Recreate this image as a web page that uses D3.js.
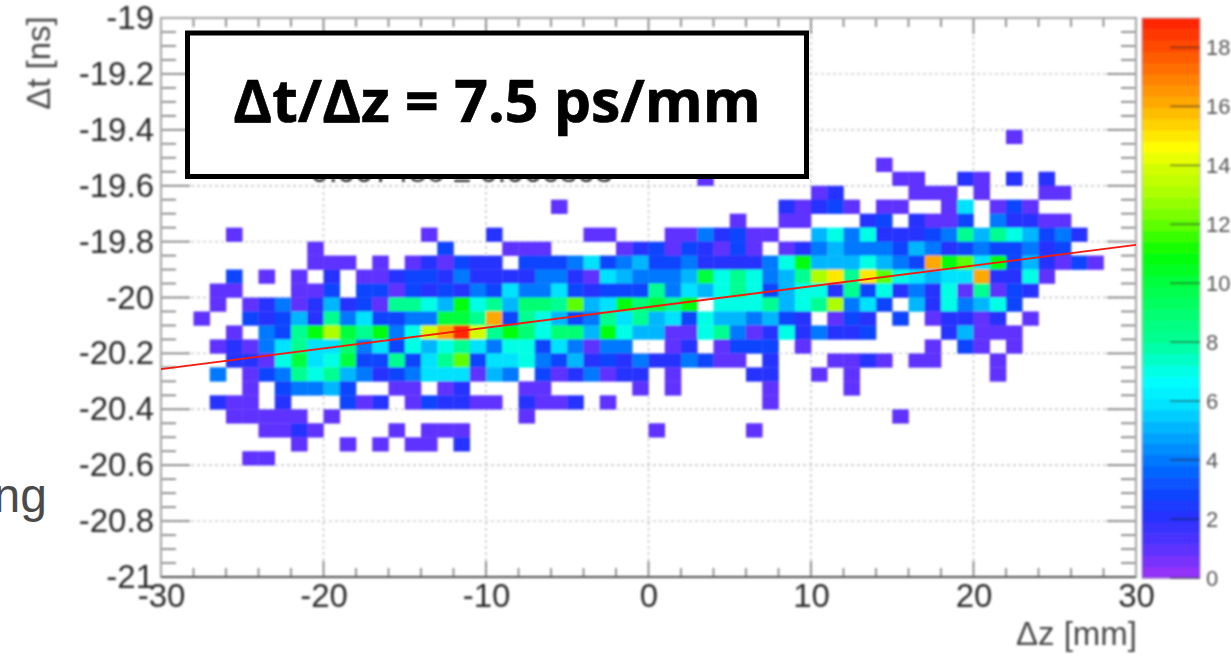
<!DOCTYPE html>
<html>
<head>
<meta charset="utf-8">
<script src="https://cdn.jsdelivr.net/npm/d3@7"></script>
<style>
  html, body { margin: 0; padding: 0; background: #fff; overflow: hidden; }
  text { font-family: "Liberation Sans", sans-serif; fill: #2c2c2c; }
  .domain { display: none; }
</style>
</head>
<body>
<svg width="1231" height="657"></svg>
<script>
var zTicks = [-30, -20, -10, 0, 10, 20, 30],
    tTicks = [-19, -19.2, -19.4, -19.6, -19.8, -20, -20.2, -20.4, -20.6, -20.8, -21],
    countTicks = [0, 2, 4, 6, 8, 10, 12, 14, 16, 18];

var fitZ = [-30, 30],
    fitT = [-20.256, -19.812];

var binZ = 1, binT = 0.05;

// upper dt edge of each row of bins
var rowT = [-19.4, -19.5, -19.55, -19.6, -19.65, -19.7, -19.75, -19.8, -19.85, -19.9,
            -19.95, -20, -20.05, -20.1, -20.15, -20.2, -20.25, -20.3, -20.35, -20.4,
            -20.45, -20.5, -20.55];

// dz of the first bin given in each row
var rowZ = [22, 14, 3, 10, -6, 5, -26, -21, -21, -26, -27, -27, -28, -26, -27, -26, -27, -25, -27, -26, -24, -22, -25];

var rowCounts = [
  [1],
  [1],
  [1,0,0,0,0,0,0,0,0,0,0,0,1,1,0,0,2,1,0,2,0,2],
  [1,2,0,0,0,0,1,1,1,0,1,0,0,0,1,1],
  [1,0,0,0,0,0,0,0,0,0,0,0,0,0,2,1,2,3,1,0,1,1,0,0,1,6,0,1,3,1],
  [1,0,0,1,1,0,0,0,2,3,0,2,1,1,3,0,4,2,2,1,1],
  [1,0,0,0,0,0,0,0,0,0,0,0,1,0,0,0,2,0,0,0,0,0,1,1,0,0,0,1,1,4,2,3,1,1,0,0,5,7,4,7,2,2,2,3,4,8,5,8,7,5,3,4,2],
  [1,0,0,0,0,0,0,0,3,0,0,0,1,1,1,0,0,0,0,1,2,3,1,3,2,1,3,1,0,1,2,4,5,4,4,4,3,5,4,2,3,4,3,3,4,2,3],
  [1,1,1,0,1,0,1,2,1,3,2,2,0,3,3,3,4,6,3,4,5,3,3,4,2,2,2,2,4,7,11,5,5,5,7,5,4,3,16,11,12,6,11,3,5,2,1,3,1],
  [3,0,1,0,1,0,2,0,1,1,2,3,3,2,4,2,2,2,2,4,4,2,1,6,5,4,4,4,5,10,7,8,7,4,5,8,13,15,8,15,12,7,6,5,6,6,16,2,2,7,1],
  [1,1,0,0,0,1,1,3,0,3,3,1,3,2,3,2,4,3,6,4,4,6,3,2,3,3,3,8,4,6,5,7,8,7,3,5,7,7,2,8,3,7,2,4,2,7,1,8,1,3,2],
  [1,0,1,2,4,1,2,5,2,3,1,8,8,7,5,11,7,8,5,9,9,8,12,5,6,11,9,10,8,11,0,7,7,7,8,5,7,8,13,4,6,3,0,5,2,7,4,5,7,3],
  [1,0,0,3,2,3,5,2,8,4,6,3,3,4,4,10,10,8,16,3,8,7,5,3,4,8,6,8,5,6,3,7,5,5,4,5,3,2,0,1,3,2,0,3,0,1,2,2,1,2,0,1],
  [1,0,4,3,8,11,13,10,8,11,4,7,14,16,19,14,8,11,9,7,9,9,5,11,7,5,5,1,1,7,8,4,1,2,7,2,4,2,2,3,0,0,0,0,2,5,1,1,1],
  [1,2,1,4,6,8,6,6,9,4,6,3,7,5,7,8,6,4,7,7,3,6,4,1,4,4,0,0,1,2,0,1,3,3,3,0,1,0,0,0,0,0,0,0,1,0,3,1,0,1],
  [2,2,1,7,10,6,7,10,3,3,8,3,6,8,12,3,6,6,7,4,3,5,2,3,2,4,2,2,4,3,1,1,0,2,0,0,0,1,1,2,1,0,1,1,0,0,0,1],
  [4,0,1,3,4,8,7,8,5,4,2,3,4,6,6,6,1,5,4,0,3,1,2,4,1,2,2,0,1,0,0,0,0,2,2,0,0,1,0,1,0,0,0,0,0,0,0,0,1],
  [1,0,3,4,4,5,3,0,0,1,1,0,1,2,0,0,0,1,1,0,0,0,0,0,1,0,1,0,0,0,0,0,1,0,0,0,0,1],
  [2,1,1,0,2,0,0,0,3,1,2,0,1,3,2,2,1,1,0,2,1,1,2,0,1,0,0,0,0,0,0,0,0,0,1],
  [1,1,1,1,1,0,1,0,0,0,0,0,0,0,0,0,0,0,1,0,0,0,0,0,0,0,0,0,0,0,0,0,0,0,0,0,0,0,0,0,0,1],
  [1,1,2,1,0,0,0,0,1,0,1,1,1,0,0,0,0,0,0,0,0,0,0,0,1,0,0,0,0,0,1],
  [1,0,0,1,0,1,0,1,1,0,2],
  [1,1]
];

// ROOT rainbow palette
var paletteCounts = [0, 1, 2, 3, 4, 5, 6, 6.7, 8, 9, 10, 11, 12, 13, 14, 14.6, 16, 18, 19];
var paletteColors = ["#a030f8", "#5a30ff", "#2a30ff", "#0a48ff", "#0078ff", "#00b0ff", "#00e8ff", "#00ffff",
                     "#00ff98", "#00ff70", "#00ff40", "#00ff00", "#60ff00", "#a8ff00", "#d8ff00", "#ffff00",
                     "#ffb000", "#ff4a00", "#ff2000"];

var svg = d3.select("svg"),
    left = 161, right = 1136, top_ = 18, bottom = 577,
    barLeft = 1142, barRight = 1200;

var x = d3.scaleLinear().domain([-30, 30]).range([left, right]),
    y = d3.scaleLinear().domain([-19, -21]).range([top_, bottom]),
    barY = d3.scaleLinear().domain([0, 19]).range([bottom + 1, top_]);

var interp = d3.scaleLinear().domain(paletteCounts).range(paletteColors);
var color = d3.scaleQuantize().domain([0, 19]).range(d3.range(50).map(function(i) {
  return interp((i + 0.5) * 19 / 50);
}));

var defs = svg.append("defs");
function addBlur(id, sd) {
  defs.append("filter").attr("id", id)
      .attr("x", 0).attr("y", 0).attr("width", 1231).attr("height", 657)
      .attr("filterUnits", "userSpaceOnUse")
    .append("feGaussianBlur").attr("stdDeviation", sd);
}
addBlur("soft", 0.9);
addBlur("softLine", 0.45);

// slide text cut off on the left of the screenshot
svg.append("text")
    .attr("x", 47).attr("y", 512).attr("text-anchor", "end")
    .style("font-size", "48px").style("fill", "#4a4a4a")
    .text("ng");

var plot = svg.append("g").attr("filter", "url(#soft)");

// grid
plot.append("g").selectAll("line").data(zTicks.slice(1, -1)).enter().append("line")
    .attr("x1", function(d) { return x(d); }).attr("x2", function(d) { return x(d); })
    .attr("y1", top_).attr("y2", bottom)
    .attr("stroke", "#c4c4c4").attr("stroke-width", 1.4).attr("stroke-dasharray", "3,3");
plot.append("g").selectAll("line").data(tTicks.slice(1, -1)).enter().append("line")
    .attr("x1", left).attr("x2", right)
    .attr("y1", function(d) { return y(d); }).attr("y2", function(d) { return y(d); })
    .attr("stroke", "#c4c4c4").attr("stroke-width", 1.4).attr("stroke-dasharray", "3,3");

// 2d histogram
rowCounts.forEach(function(counts, i) {
  plot.append("g").selectAll("rect")
    .data(counts.map(function(c, j) { return { z: rowZ[i] + j * binZ, t: rowT[i], n: c }; })
      .filter(function(d) { return d.n > 0; }))
    .enter().append("rect")
      .attr("x", function(d) { return x(d.z); })
      .attr("y", function(d) { return y(d.t); })
      .attr("width", x(binZ) - x(0) + 0.3)
      .attr("height", y(-19 - binT) - y(-19) + 0.3)
      .attr("fill", function(d) { return color(d.n); });
});

// frame ticks
var zMinor = d3.range(-30, 30.1, 2).filter(function(d) { return zTicks.indexOf(d) < 0; }),
    tMinor = d3.range(0, 41).map(function(i) { return -19 - i * binT; })
      .filter(function(d) { return !tTicks.some(function(t) { return Math.abs(t - d) < 1e-6; }); });

function hTicks(vals, x0, len, w) {
  plot.append("g").selectAll("line").data(vals).enter().append("line")
      .attr("x1", x0).attr("x2", x0 + len)
      .attr("y1", function(d) { return y(d); }).attr("y2", function(d) { return y(d); })
      .attr("stroke", "#777").attr("stroke-width", w);
}
function vTicks(vals, y0, len, w) {
  plot.append("g").selectAll("line").data(vals).enter().append("line")
      .attr("y1", y0).attr("y2", y0 + len)
      .attr("x1", function(d) { return x(d); }).attr("x2", function(d) { return x(d); })
      .attr("stroke", "#777").attr("stroke-width", w);
}
hTicks(tMinor, left, 15, 1.6);
hTicks(tTicks, left, 29, 1.6);
hTicks(tMinor, right, -15, 1.6);
hTicks(tTicks, right, -29, 1.6);
vTicks(zMinor, bottom, -9, 1.6);
vTicks(zTicks, bottom, -16, 1.6);
vTicks(zMinor, top_, 9, 1.6);
vTicks(zTicks, top_, 16, 1.6);

plot.append("rect")
    .attr("x", left).attr("y", top_).attr("width", right - left).attr("height", bottom - top_)
    .attr("fill", "none").attr("stroke", "#a8a8a8").attr("stroke-width", 2.2);
plot.append("line")
    .attr("x1", left).attr("x2", right).attr("y1", bottom).attr("y2", bottom)
    .attr("stroke", "#4a4a4a").attr("stroke-width", 2.2);

// tick labels
var yAxis = d3.axisLeft(y).tickValues(tTicks).tickSize(0).tickPadding(0)
    .tickFormat(function(d) { return String(+d.toFixed(1)); });
plot.append("g").attr("transform", "translate(" + (left - 7) + ",0)").call(yAxis)
  .selectAll("text").style("font-size", "33px").attr("font-size", null).attr("font-family", null);

var xAxis = d3.axisBottom(x).tickValues(zTicks).tickSize(0).tickPadding(0)
    .tickFormat(function(d) { return String(d); });
plot.append("g").attr("transform", "translate(0," + (bottom + 7) + ")").call(xAxis)
  .selectAll("text").style("font-size", "33px").attr("font-size", null).attr("font-family", null);

// the fit result mostly hidden by the annotation box
plot.append("text")
    .attr("x", 462).attr("y", 182).attr("text-anchor", "middle")
    .style("font-size", "32px")
    .text("0.007486 \u00b1 0.000303");

plot.append("text")
    .attr("transform", "translate(50,63) rotate(-90)")
    .attr("text-anchor", "middle")
    .style("font-size", "33px").style("fill", "#4a4a4a")
    .text("\u0394t [ns]");
plot.append("text")
    .attr("x", 1137).attr("y", 645).attr("text-anchor", "end")
    .style("font-size", "33px").style("fill", "#4a4a4a")
    .text("\u0394z [mm]");

// colour bar
var bands = d3.range(50);
plot.append("g").selectAll("rect").data(bands).enter().append("rect")
    .attr("x", barLeft)
    .attr("y", function(d) { return barY((d + 1) * 19 / 50); })
    .attr("width", barRight - barLeft)
    .attr("height", barY(0) - barY(19 / 50) + 0.5)
    .attr("fill", function(d) { return color((d + 0.5) * 19 / 50); });
plot.append("rect")
    .attr("x", barLeft).attr("y", top_).attr("width", barRight - barLeft).attr("height", barY(0) - top_)
    .attr("fill", "none").attr("stroke", "#999").attr("stroke-opacity", 0.6).attr("stroke-width", 1.2);
plot.append("g").selectAll("line").data(countTicks).enter().append("line")
    .attr("x1", barRight - 30).attr("x2", barRight)
    .attr("y1", function(d) { return barY(d); }).attr("y2", function(d) { return barY(d); })
    .attr("stroke", "#222").attr("stroke-opacity", 0.6).attr("stroke-width", 1.6);
plot.append("g").selectAll("text").data(countTicks).enter().append("text")
    .attr("x", 1206)
    .attr("y", function(d) { return barY(d); })
    .attr("dy", "0.36em")
    .style("font-size", "22px").style("fill", "#555")
    .text(function(d) { return d; });

// fit
svg.append("line")
    .attr("filter", "url(#softLine)")
    .attr("x1", x(fitZ[0])).attr("y1", y(fitT[0]))
    .attr("x2", x(fitZ[1])).attr("y2", y(fitT[1]))
    .attr("stroke", "#f41a10").attr("stroke-width", 1.8);

// annotation box on top of the stats box
svg.append("rect")
    .attr("x", 187.5).attr("y", 33).attr("width", 619).attr("height", 143.5)
    .attr("fill", "#fff").attr("stroke", "#000").attr("stroke-width", 5);
svg.append("text")
    .attr("x", 497).attr("y", 122).attr("text-anchor", "middle")
    .style("font-family", "'Open Sans', sans-serif")
    .style("font-weight", 700).style("font-size", "59px").style("fill", "#000")
    .style("stroke", "#000").style("stroke-width", 0.7)
    .text("\u0394t/\u0394z = 7.5 ps/mm");
</script>
</body>
</html>
